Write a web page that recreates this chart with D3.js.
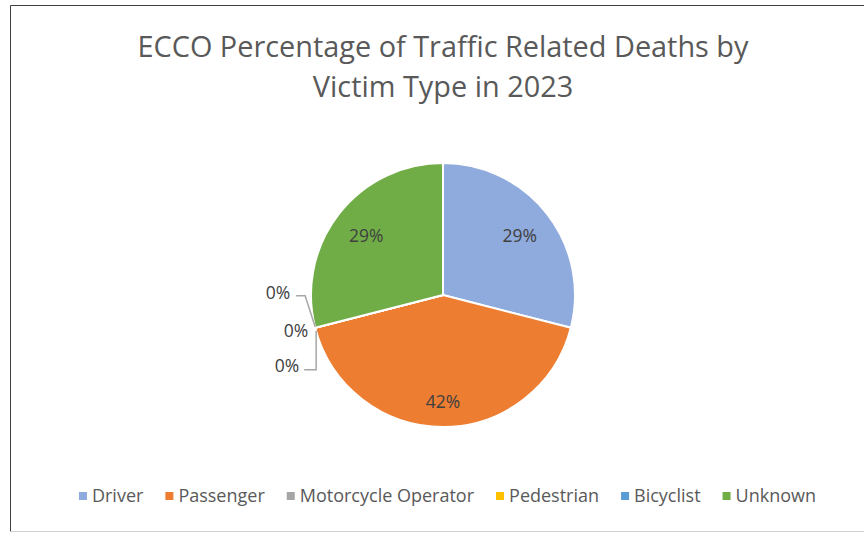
<!DOCTYPE html>
<html>
<head>
<meta charset="utf-8">
<script src="https://cdn.jsdelivr.net/npm/d3@7"></script>
<style>
  body { margin: 0; background: #fff; }
  svg { display: block; font-family: "Open Sans", "Noto Sans", sans-serif; }
</style>
</head>
<body>
<div id="chart"></div>
<script>
// data
const categories = ['Driver', 'Passenger', 'Motorcycle Operator', 'Pedestrian', 'Bicyclist', 'Unknown'];
const percentages = [29, 42, 0, 0, 0, 29];
const colors = ['#8FAADC', '#ED7D31', '#A5A5A5', '#FFC000', '#5B9BD5', '#70AD47'];
const titleLines = ['ECCO Percentage of Traffic Related Deaths by', 'Victim Type in 2023'];

const width = 864, height = 533;
const cx = 443, cy = 295, radius = 132;

const svg = d3.select('#chart')
    .append('svg')
    .attr('width', width)
    .attr('height', height);

// chart frame
svg.append('line').attr('x1', 10.5).attr('y1', 5.5).attr('x2', width).attr('y2', 5.5)
    .attr('stroke', '#404040').attr('stroke-width', 1);
svg.append('line').attr('x1', 10.5).attr('y1', 5.5).attr('x2', 10.5).attr('y2', 531.5)
    .attr('stroke', '#404040').attr('stroke-width', 1);
svg.append('line').attr('x1', 10.5).attr('y1', 531.5).attr('x2', width).attr('y2', 531.5)
    .attr('stroke', '#d0d0d0').attr('stroke-width', 1);

// title
const title = svg.append('text')
    .attr('text-anchor', 'middle')
    .attr('fill', '#595959')
    .attr('font-size', 30);
title.selectAll('tspan')
    .data(titleLines)
    .join('tspan')
    .attr('x', cx)
    .attr('y', (d, i) => 57 + i * 40)
    .text(d => d);
// fit title width to the reference
const w1 = title.select('tspan').node().getComputedTextLength();
title.attr('font-size', 30 * 611 / w1);

// pie
const data = categories.map((c, i) => ({name: c, value: percentages[i], color: colors[i]}));
const pie = d3.pie().sort(null).value(d => d.value);
const arcs = pie(data);
const arc = d3.arc().innerRadius(0).outerRadius(radius);
const labelArc = d3.arc().innerRadius(radius * 0.735).outerRadius(radius * 0.735);

const g = svg.append('g').attr('transform', `translate(${cx},${cy})`);

g.selectAll('path.slice')
    .data(arcs)
    .join('path')
    .attr('class', 'slice')
    .attr('d', arc)
    .attr('fill', d => d.data.color)
    .attr('stroke', '#fff')
    .attr('stroke-width', 2)
    .attr('stroke-linejoin', 'round');

// labels for non-zero slices (pushed a bit further when below centre)
g.selectAll('text.val')
    .data(arcs.filter(d => d.data.value > 0))
    .join('text')
    .attr('class', 'val')
    .attr('transform', d => {
        const [lx, ly] = labelArc.centroid(d);
        const mid = (d.startAngle + d.endAngle) / 2;
        return `translate(${lx},${ly + Math.max(0, -Math.cos(mid)) * 10})`;
    })
    .attr('text-anchor', 'middle')
    .attr('dy', '0.35em')
    .attr('font-size', 17.5)
    .attr('fill', '#404040')
    .text(d => d.data.value + '%');

// zero slices get callout labels on the left
const zeros = arcs.filter(d => d.data.value === 0);
const edgeArc = d3.arc().innerRadius(radius).outerRadius(radius);
const anchor = edgeArc.centroid(zeros[0]);
// offsets of each callout label relative to the anchor (text end, middle)
const callouts = [
    {dx: -25, dy: -35, line: [[-19, -32], [-10, -32], [0, -1]]},
    {dx: -7, dy: 3, line: null},
    {dx: -16, dy: 38, line: [[-11, 42], [1, 42], [1, 3]]}
];

zeros.forEach((d, i) => {
    const c = callouts[i];
    if (c.line) {
        g.append('path')
            .attr('d', d3.line()(c.line.map(p => [anchor[0] + p[0], anchor[1] + p[1]])))
            .attr('fill', 'none')
            .attr('stroke', '#A6A6A6')
            .attr('stroke-width', 1.5);
    }
    g.append('text')
        .attr('x', anchor[0] + c.dx)
        .attr('y', anchor[1] + c.dy)
        .attr('text-anchor', 'end')
        .attr('dy', '0.35em')
        .attr('font-size', 17.5)
        .attr('fill', '#404040')
        .text(d.data.value + '%');
});

// legend
const legend = svg.append('g').attr('class', 'legend');
const items = legend.selectAll('g')
    .data(data)
    .join('g');
items.append('rect')
    .attr('width', 8).attr('height', 8)
    .attr('y', -4)
    .attr('fill', d => d.color);
items.append('text')
    .attr('x', 13)
    .attr('dy', '0.35em')
    .attr('font-size', 18)
    .attr('fill', '#595959')
    .text(d => d.name);

let x = 0;
const gap = 22;
items.each(function() {
    const tw = d3.select(this).select('text').node().getComputedTextLength();
    d3.select(this).attr('transform', `translate(${x},0)`);
    x += 13 + tw + gap;
});
const total = x - gap;
legend.attr('transform', `translate(${(71 + 824) / 2 - total / 2},496)`);
</script>
</body>
</html>
